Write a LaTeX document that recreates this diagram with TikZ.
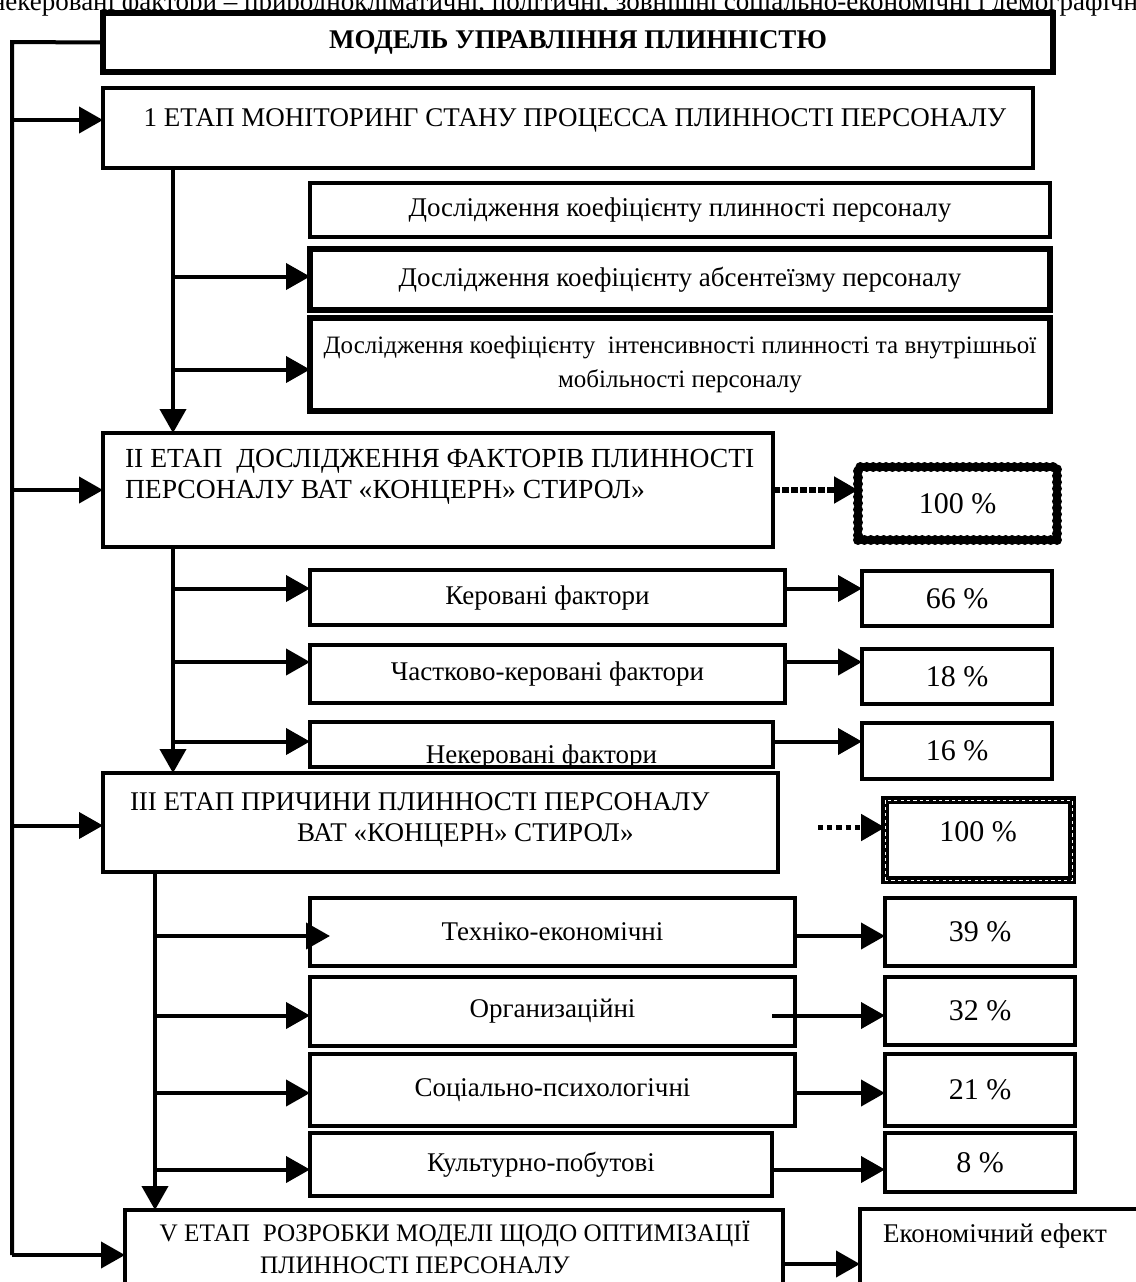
\documentclass[tikz,border=0pt]{standalone}
\usepackage{fontspec}
\setmainfont{Liberation Serif}
\usetikzlibrary{arrows.meta,calc}
\newcommand\bx[7][box]{\node[#1, anchor=north west, minimum width={(#5-#3)*0.5pt}, minimum height={(#6-#4)*0.5pt}] (#2) at (#3,#4) {#7};}
\begin{document}
\begin{tikzpicture}[x=0.5pt,y=-0.5pt,
  every node/.style={font=\fontsize{13.5}{16}\selectfont, inner sep=0pt, outer sep=0pt},
  box/.style={draw, line width=2pt, fill=white, align=center},
  pbox/.style={box, font=\fontsize{15}{17}\selectfont},
  mbox/.style={draw, line width=2.6pt, fill=white, align=center},
  tbox/.style={draw, line width=3pt, fill=white, align=center},
  dotbox/.style={draw, line width=5pt, dash pattern=on 0.01pt off 3.2pt, line cap=round, fill=white, align=center, font=\fontsize{15}{17}\selectfont},
  dashbox/.style={draw, line width=3.6pt, fill=white, align=center,
     postaction={draw=white, line width=0.5pt, dash pattern=on 1.6pt off 1.6pt}},
  conn/.style={line width=2pt},
  arr/.style={line width=2pt, -{Triangle[length=12pt,width=13pt]}},
  darr/.style={line width=2.6pt, dash pattern=on 3.5pt off 1pt, -{Triangle[length=12pt,width=13pt]}},
  parr/.style={line width=2.6pt, dash pattern=on 2.6pt off 2pt, -{Triangle[length=12pt,width=13pt]}},
]
\useasboundingbox (0,0) rectangle (1136,1282);

% clipped line at the very top
\node[anchor=base west] (topnote) at (-9,10) {некеровані фактори -- природнокліматичні, політичні, зовнішні соціально-економічні і демографічні};

% main column
\bx[tbox]{model}{103}{13}{1053}{72}{\bfseries МОДЕЛЬ УПРАВЛІННЯ ПЛИННІСТЮ}
\bx{s1}{103}{88}{1033}{168}{}
\node (s1t) at (575,120) {1 ЕТАП МОНІТОРИНГ СТАНУ ПРОЦЕССА ПЛИННОСТІ ПЕРСОНАЛУ};

\bx{m1}{310}{183}{1050}{237}{Дослідження коефіцієнту плинності персоналу}
\bx[mbox]{m2}{310}{249}{1050}{310}{Дослідження коефіцієнту абсентеїзму персоналу}
\bx[mbox, font=\fontsize{12.5}{16}\selectfont]{m3}{310}{318}{1050}{411}{Дослідження коефіцієнту\ \ інтенсивності плинності та внутрішньої\\[1pt] мобільності персоналу}

\bx{s2}{103}{433}{773}{547}{}
\node[anchor=west, align=left, font=\fontsize{13.8}{15.5}\selectfont] (s2t) at (125,477) {II ЕТАП\ \ ДОСЛІДЖЕННЯ ФАКТОРІВ ПЛИННОСТІ\\ПЕРСОНАЛУ ВАТ «КОНЦЕРН» СТИРОЛ»};
\bx[dotbox]{p0}{858}{467}{1057}{540}{100 \%}

\bx{f1}{310}{570}{785}{625}{Керовані фактори}
\bx{f2}{310}{645}{785}{703}{Частково-керовані фактори}
\bx[box, path picture={\node[anchor=base] at ([yshift=2pt]path picture bounding box.south) {Некеровані фактори};}]{f3}{310}{722}{773}{767}{}
\bx[pbox]{pc1}{862}{571}{1052}{626}{66 \%}
\bx[pbox]{pc2}{862}{649}{1052}{704}{18 \%}
\bx[pbox]{pc3}{862}{723}{1052}{779}{16 \%}

\bx{s3}{103}{773}{778}{872}{}
\node[anchor=west] (s3a) at (130,802) {III ЕТАП ПРИЧИНИ ПЛИННОСТІ ПЕРСОНАЛУ};
\node[anchor=west] (s3b) at (297,835) {ВАТ «КОНЦЕРН» СТИРОЛ»};
\bx[dashbox]{p1}{885}{800}{1072}{880}{}
\node[font=\fontsize{15}{17}\selectfont] (p1t) at (978,832) {100 \%};

\bx{r1}{310}{898}{795}{966}{Техніко-економічні}
\bx{r2}{310}{977}{795}{1046}{Организаційні}
\bx{r3}{310}{1054}{795}{1126}{Соціально-психологічні}
\bx{r4}{310}{1133}{772}{1196}{Культурно-побутові}
\bx[pbox]{q1}{885}{898}{1075}{966}{39 \%}
\bx[pbox]{q2}{885}{977}{1075}{1045}{32 \%}
\bx[pbox]{q3}{885}{1054}{1075}{1126}{21 \%}
\bx[pbox]{q4}{885}{1133}{1075}{1192}{8 \%}

\bx{s5}{125}{1210}{783}{1310}{}
\node[font=\fontsize{12.6}{16}\selectfont] (s5a) at (455,1234) {V ЕТАП\ \ РОЗРОБКИ МОДЕЛІ ЩОДО ОПТИМІЗАЦІЇ};
\node[font=\fontsize{12.6}{16}\selectfont] (s5b) at (415,1265) {ПЛИННОСТІ ПЕРСОНАЛУ};
\bx{eco}{860}{1209}{1160}{1310}{}
\node[anchor=west] (ecot) at (883,1236) {Економічний ефект};

% left rail
\coordinate (L0) at (12,42);
\coordinate (L1) at (12,1255);
\draw[conn] (model.west) -- (L0) -- (L1);
\draw[arr] ($(L0 |- s1.west)+(0,-8)$) -- ($(s1.west)+(0,-8)$);
\draw[arr] (L0 |- s2.west) -- (s2.west);
\draw[arr] ($(L0 |- s3.west)+(0,3)$) -- ($(s3.west)+(0,3)$);
\draw[arr] (L1) -- (L1 -| s5.west);

% trunk 1
\coordinate (T1) at ($(s1.south west)+(70,0)$);
\draw[arr] (T1) -- (T1 |- s2.north);
\draw[arr] ($(T1 |- m2.west)+(0,-3)$) -- ($(m2.west)+(0,-3)$);
\draw[arr] ($(T1 |- m3.west)+(0,5)$) -- ($(m3.west)+(0,5)$);

% trunk 2
\coordinate (T2) at ($(s2.south west)+(70,0)$);
\draw[arr] (T2) -- (T2 |- s3.north);
\draw[arr] ($(T2 |- f1.west)+(0,-9)$) -- ($(f1.west)+(0,-9)$);
\draw[arr] ($(T2 |- f2.west)+(0,-12)$) -- ($(f2.west)+(0,-12)$);
\draw[arr] ($(T2 |- f3.west)+(0,-3)$) -- ($(f3.west)+(0,-3)$);
\draw[arr] ($(f1.east)+(0,-9)$) -- ($(f1.east -| pc1.west)+(0,-9)$);
\draw[arr] ($(f2.east)+(0,-12)$) -- ($(f2.east -| pc2.west)+(0,-12)$);
\draw[arr] ($(f3.east)+(0,-3)$) -- ($(f3.east -| pc3.west)+(0,-3)$);
\draw[darr] (s2.east) -- (s2.east -| p0.west);

% trunk 3
\coordinate (T3) at ($(s3.south west)+(52,0)$);
\draw[arr] (T3) -- (T3 |- s5.north);
\draw[arr] ($(T3 |- r1.west)+(0,4)$) -- ($(r1.west)+(20,4)$);
\draw[arr] ($(T3 |- r2.west)+(0,4)$) -- ($(r2.west)+(0,4)$);
\draw[arr] ($(T3 |- r3.west)+(0,3)$) -- ($(r3.west)+(0,3)$);
\draw[arr] ($(T3 |- r4.west)+(0,5)$) -- ($(r4.west)+(0,5)$);
\draw[arr] ($(r1.east)+(0,4)$) -- ($(r1.east -| q1.west)+(0,4)$);
\draw[arr] ($(r2.east)+(-23,4)$) -- ($(r2.east -| q2.west)+(0,4)$);
\draw[arr] ($(r3.east)+(0,3)$) -- ($(r3.east -| q3.west)+(0,3)$);
\draw[arr] ($(r4.east)+(0,5)$) -- ($(r4.east -| q4.west)+(0,5)$);
\coordinate (D0) at ($(s3.east)+(40,5)$);
\draw[parr] (D0) -- (D0 -| p1.west);

\draw[arr] ($(s5.north east)+(0,54)$) coordinate (E0) -- (E0 -| eco.west);
\end{tikzpicture}
\end{document}
